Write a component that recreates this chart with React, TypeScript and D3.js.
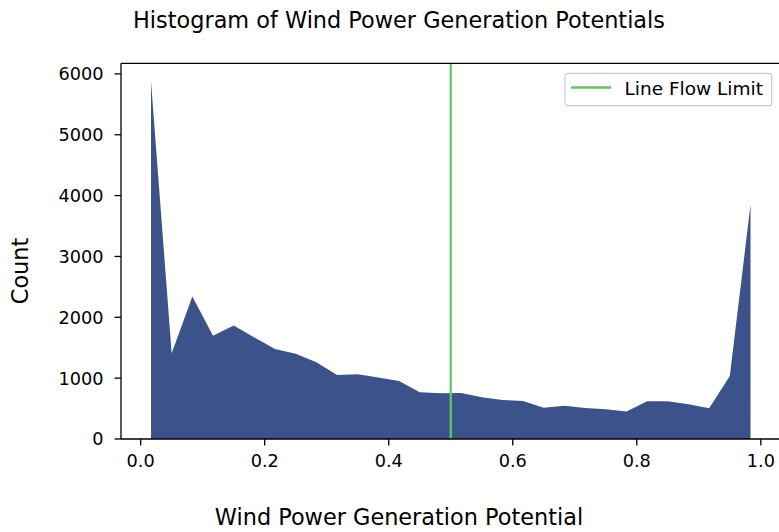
import React from "react";
import * as d3 from "d3";

// Histogram counts of wind power generation potential, 30 equal bins on [0, 1]
const binCenters: number[] = d3.range(30).map((i) => (i + 0.5) / 30);
const counts: number[] = [
  5880, 1410, 2340, 1695, 1865, 1670, 1480, 1400, 1262, 1052,
  1064, 1009, 955, 768, 750, 757, 686, 642, 626, 515,
  548, 510, 488, 452, 620, 620, 570, 504, 1036, 3850,
];
const lineFlowLimit = 0.5;
const xTicks: number[] = [0, 0.2, 0.4, 0.6, 0.8, 1.0];
const yTicks: number[] = [0, 1000, 2000, 3000, 4000, 5000, 6000];

const W = 779;
const H = 532;
const plot = { left: 121, top: 63.3, bottom: 439, right: 780.5 };
const FONT = "DejaVu Sans, sans-serif";
const FILL = "#3b528b";
const GREEN = "#5ec962";

export default function App() {
  const x = d3.scaleLinear().domain([-0.0317, 1.0317]).range([plot.left, plot.right]);
  const ymax = d3.max(counts)! * 1.05;
  const y = d3.scaleLinear().domain([0, ymax]).range([plot.bottom, plot.top]);

  const area = d3
    .area<number>()
    .x((_, i) => x(binCenters[i]))
    .y0(y(0))
    .y1((d) => y(d));

  const centerX = 399;

  return (
    <svg
      width={W}
      height={H}
      style={{ position: "absolute", left: 0, top: 0, background: "#fff" }}
      fontFamily={FONT}
    >
      <rect width={W} height={H} fill="#fff" />
      <text x={centerX} y={27.5} textAnchor="middle" fontSize={22.4} fill="#000">
        Histogram of Wind Power Generation Potentials
      </text>

      <path d={area(counts) ?? ""} fill={FILL} />

      <line
        x1={x(lineFlowLimit)}
        x2={x(lineFlowLimit)}
        y1={plot.top}
        y2={plot.bottom}
        stroke={GREEN}
        strokeWidth={2.3}
      />

      {/* spines */}
      <line x1={plot.left} x2={plot.left} y1={plot.top} y2={plot.bottom} stroke="#000" strokeWidth={1.3} />
      <line x1={plot.left} x2={plot.right} y1={plot.bottom} y2={plot.bottom} stroke="#000" strokeWidth={1.3} />
      <line x1={plot.left} x2={plot.right} y1={plot.top} y2={plot.top} stroke="#000" strokeWidth={1.3} />

      {/* x axis */}
      {xTicks.map((t) => (
        <g key={"x" + t} transform={`translate(${x(t)},0)`}>
          <line y1={plot.bottom} y2={plot.bottom + 6.5} stroke="#000" strokeWidth={1.3} />
          <text y={466.7} textAnchor="middle" fontSize={17.7} fill="#000">
            {t.toFixed(1)}
          </text>
        </g>
      ))}
      {/* y axis */}
      {yTicks.map((t) => (
        <g key={"y" + t} transform={`translate(0,${y(t)})`}>
          <line x1={plot.left - 6.5} x2={plot.left} stroke="#000" strokeWidth={1.3} />
          <text x={103.5} dy="0.36em" textAnchor="end" fontSize={17.7} fill="#000">
            {t}
          </text>
        </g>
      ))}

      <text x={centerX} y={525} textAnchor="middle" fontSize={22.4} fill="#000">
        Wind Power Generation Potential
      </text>
      <text
        transform={`translate(28,271) rotate(-90)`}
        textAnchor="middle"
        fontSize={22.4}
        fill="#000"
      >
        Count
      </text>

      {/* legend */}
      <g>
        <rect
          x={565}
          y={73.3}
          width={206.7}
          height={32.4}
          rx={3}
          fill="#fff"
          fillOpacity={0.8}
          stroke="#cccccc"
          strokeWidth={1.2}
        />
        <line x1={571} x2={611} y1={87.5} y2={87.5} stroke={GREEN} strokeWidth={2.3} />
        <text x={624.5} y={95} fontSize={18.5} fill="#000">
          Line Flow Limit
        </text>
      </g>
    </svg>
  );
}
